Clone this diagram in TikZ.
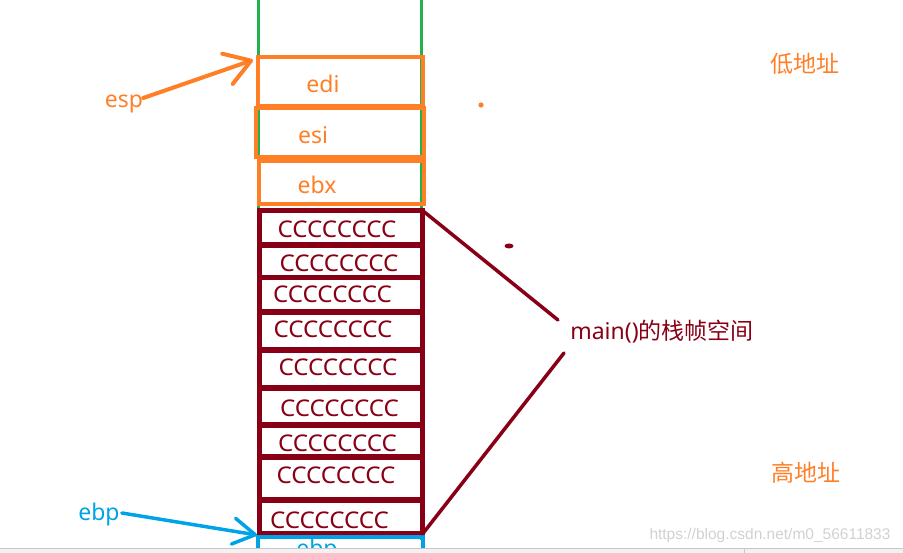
\documentclass[tikz,border=0pt]{standalone}
\usepackage{fontspec}
\setmainfont{Noto Sans}
\newfontfamily\cjk{Noto Sans CJK SC}
\newfontfamily\wmfont{Liberation Sans}
\usetikzlibrary{arrows.meta,calc}
\definecolor{orng}{HTML}{FF7F27}
\definecolor{dred}{HTML}{880015}
\definecolor{grn}{HTML}{22B14C}
\definecolor{blu}{HTML}{00A2E8}
\tikzset{
  big/.style={font=\fontsize{23}{27}\selectfont, inner sep=0pt},
  obox/.style={draw=orng, line width=4pt, inner sep=0pt, outer sep=0pt},
  rbox/.style={draw=dred, line width=5.5pt, inner sep=0pt, outer sep=0pt, minimum width=163pt},
  otext/.style={big, text=orng},
  rtext/.style={big, text=dred},
  ctext/.style={big, text=dred, xscale=1.05},
  btext/.style={big, text=blu},
}
\begin{document}
\begin{tikzpicture}[x=1pt,y=-1pt]
\useasboundingbox (0,0) rectangle (903,553);
\clip (0,0) rectangle (903,553);
% green stack walls
\draw[grn, line width=3pt] (258,0) -- (258,553);
\draw[grn, line width=3pt] (421,0) -- (421,540);
% orange register boxes
\node[obox, minimum width=165pt, minimum height=49pt] (edi) at (340.5,81.5) {};
\node[obox, minimum width=168pt, minimum height=49pt] (esi) at (340,132.5) {};
\node[obox, minimum width=165pt, minimum height=43pt] (ebx) at (341.5,182.5) {};
\node[otext] (tedi) at (323,84) {edi};
\node[otext] (tesi) at (313,135) {esi};
\node[otext] (tebx) at (317,185) {ebx};
% dark red frame rows
\node[rbox, minimum height=34.5pt] (r1) at (341,227.75) {};
\node[rbox, minimum height=32.5pt] (r2) at (341,261.25) {};
\node[rbox, minimum height=34.5pt] (r3) at (341,294.75) {};
\node[rbox, minimum height=38pt] (r4) at (341,331) {};
\node[rbox, minimum height=38pt] (r5) at (341,369) {};
\node[rbox, minimum height=37pt] (r6) at (341,406.5) {};
\node[rbox, minimum height=32pt] (r7) at (341,441) {};
\node[rbox, minimum height=43pt] (r8) at (341,478.5) {};
\node[rbox, minimum height=34pt] (r9) at (341,517) {};
\node[ctext] (c1) at (337,229.5) {CCCCCCCC};
\node[ctext] (c2) at (339,263.3) {CCCCCCCC};
\node[ctext] (c3) at (332.5,294) {CCCCCCCC};
\node[ctext] (c4) at (333,329.5) {CCCCCCCC};
\node[ctext] (c5) at (338,367.5) {CCCCCCCC};
\node[ctext] (c6) at (339.5,408.3) {CCCCCCCC};
\node[ctext] (c7) at (337.5,443) {CCCCCCCC};
\node[ctext] (c8) at (336,475) {CCCCCCCC};
\node[ctext] (c9) at (329.5,520) {CCCCCCCC};
% blue box (ebp) cut by the bottom edge
\node[draw=blu, line width=4pt, inner sep=0pt, minimum width=165pt, minimum height=40pt] (ebpbox) at (340.5,557) {};
\node[btext, anchor=base] (tebp) at (317,556) {ebp};
% labels
\node[otext] (esp) at (124,104) {esp};
\node[btext] (ebp) at (99,515) {ebp};
\node[otext] (low) at (805,64) {\cjk 低地址};
\node[otext] (high) at (806,472.5) {\cjk 高地址};
\node[rtext] (frame) at (662,332) {main(){\cjk 的栈帧空间}};
% arrows
\coordinate (esptip) at (253,60);
\coordinate (ebptip) at (257,535);
\draw[orng, line width=4pt, line cap=round, -{Straight Barb[length=25pt,width=32pt,round]}] (esp.east) ++(0,-6) -- (esptip);
\draw[blu, line width=3.5pt, line cap=round, -{Straight Barb[length=22pt,width=26pt,round]}] (ebp.east) ++(2,-2) -- (ebptip);
% lines to the label
\coordinate (ftop) at (558,320);
\coordinate (fbot) at (564,353);
\draw[dred, line width=3.5pt, line cap=round] (r1.north east) -- (ftop);
\draw[dred, line width=3.5pt, line cap=round] (r9.south east) -- (fbot);
% stray dots
\fill[orng] (481,105) circle (2.6pt);
\fill[dred] (509,246) ellipse (4.5pt and 2.5pt);
% watermark and bottom strip
\node[font=\wmfont\fontsize{15.5}{18}\selectfont, text=black!18, inner sep=0pt] (wm) at (770,535) {https://blog.csdn.net/m0\_56611833};
\fill[black!5] (0,548) rectangle (903,553);
\draw[black!22, line width=1pt] (0,548.5) -- (903,548.5);
\draw[black!22, line width=0.8pt] (744,548.5) -- (744,553);
\end{tikzpicture}
\end{document}
